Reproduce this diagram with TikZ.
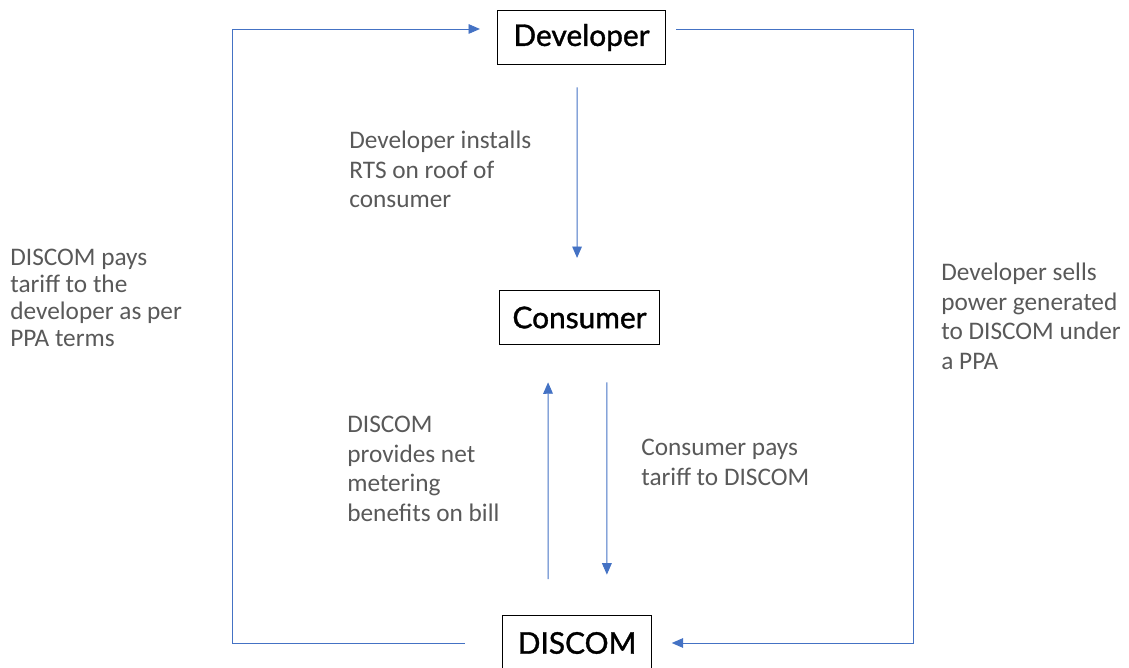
\documentclass[tikz,border=0pt]{standalone}
\usepackage{fontspec}
\setmainfont{Carlito}
\newfontfamily\boxfont[FakeBold=1.2]{Lato}
\usepackage{xcolor}
\usetikzlibrary{arrows.meta}
\usetikzlibrary{positioning}
\definecolor{flowblue}{RGB}{68,114,196}
\definecolor{notegray}{RGB}{89,89,89}
\tikzset{party/.style = {draw, line width=0.8pt, font=\boxfont\fontsize{17}{20}\selectfont, minimum height=31pt, inner sep=0}}
\tikzset{flow/.style = {draw=flowblue, line width=0.55pt, -{Triangle[width=5.5pt,length=6.5pt]}}}
\tikzset{note/.style = {anchor=north west, align=left, inner sep=0, text=notegray, font=\fontsize{14.4}{16.8}\selectfont}}

\begin{document}
\begin{tikzpicture}[x=0.02cm,y=-0.02cm]
        \useasboundingbox (0,0) rectangle (1129,668);
        % the three parties
        \node [party, minimum width=169*0.567pt] (developer) at (581.5,37.5) {Developer};
        \node [party, minimum width=161*0.567pt] (consumer) at (579.5,317.5) {Consumer};
        \node [party, minimum width=150*0.567pt] (discom) at (577,643) {DISCOM};
        % corners of the outer loop
        \coordinate (tl) at (232,29);
        \coordinate (tr) at (913,29);
        \coordinate (bl) at (232,643);
        \coordinate (br) at (913,643);
        \draw [flow, shorten <=21pt, shorten >=9.5pt] (discom.west) -- (bl) -- (tl) -- (tl -| developer.west);
        \draw [flow, shorten <=5.5pt, shorten >=11pt] (tr -| developer.east) -- (tr) -- (br) -- (discom.east);
        \draw [flow, shorten <=12.5pt, shorten >=18pt] ([xshift=-2.5pt]developer.south) -- ([xshift=-1.4pt]consumer.north);
        \draw [flow, shorten <=20.4pt, shorten >=21pt] ([xshift=-16.4pt]discom.north) -- ([xshift=-17.9pt]consumer.south);
        \draw [flow, shorten <=21pt, shorten >=23pt] ([xshift=15.6pt]consumer.south) -- ([xshift=17pt]discom.north);
        % what flows
        \node [note, font=\fontsize{14.4}{15.4}\selectfont] (pays) at (10,249) {DISCOM pays\\tariff to the\\developer as per\\PPA terms};
        \node [note] (installs) at (349,131) {Developer installs\\RTS on roof of\\consumer};
        \node [note] (sells) at (941,263) {Developer sells\\power generated\\to DISCOM under\\a PPA};
        \node [note] (metering) at (347,416) {DISCOM\\provides net\\metering\\benefits on bill};
        \node [note] (tariff) at (641,439) {Consumer pays\\tariff to DISCOM};
\end{tikzpicture}
\end{document}
